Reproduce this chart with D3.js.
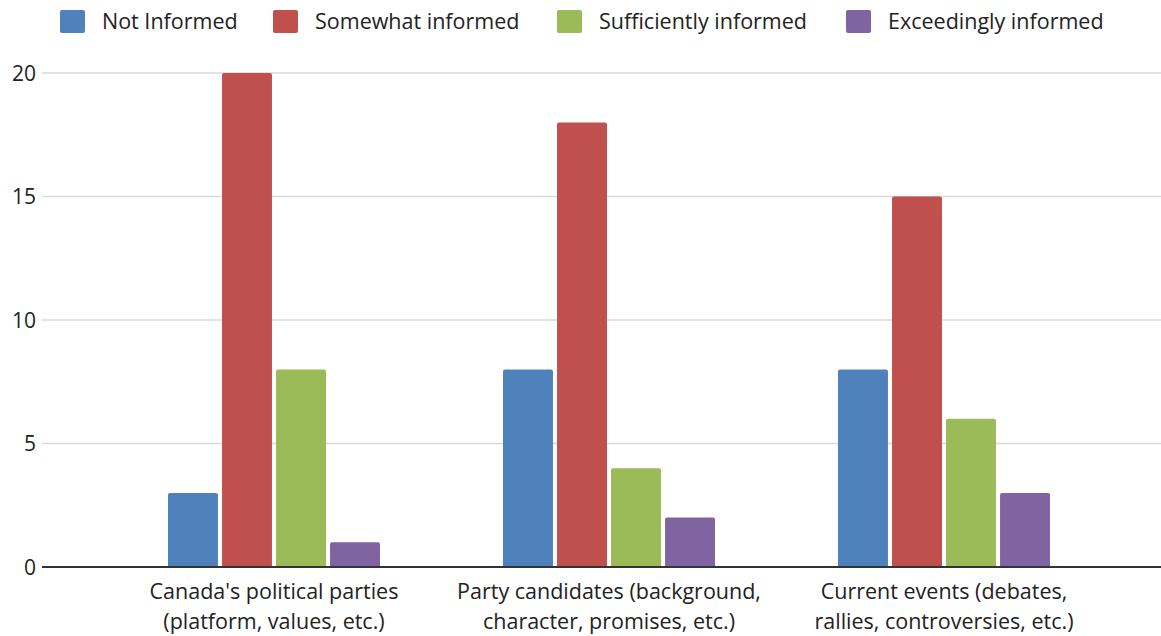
<!DOCTYPE html>
<html>
<head>
<meta charset="utf-8">
<script src="https://cdn.jsdelivr.net/npm/d3@7"></script>
<style>
  body { margin: 0; background: #fff; }
  svg text { font-family: "Open Sans", "Noto Sans", sans-serif; fill: #222; }
</style>
</head>
<body>
<svg id="chart"></svg>
<script>
var categories = [
    ["Canada's political parties", "(platform, values, etc.)"],
    ["Party candidates (background,", "character, promises, etc.)"],
    ["Current events (debates,", "rallies, controversies, etc.)"]
];
var seriesNames = ['Not Informed', 'Somewhat informed', 'Sufficiently informed', 'Exceedingly informed'];
var seriesColors = ['#4F81BD', '#C0504D', '#9BBB59', '#8064A2'];
var notInformed = [3, 8, 8];
var somewhatInformed = [20, 18, 15];
var sufficientlyInformed = [8, 4, 6];
var exceedinglyInformed = [1, 2, 3];
var yTicks = [0, 5, 10, 15, 20];

(function () {
    var width = 1161, height = 636;
    var svg = d3.select('#chart').attr('width', width).attr('height', height);

    var series = [notInformed, somewhatInformed, sufficientlyInformed, exceedinglyInformed];

    var x = d3.scaleBand().domain(d3.range(categories.length)).range([106.5, 1111.5]);
    var x1 = d3.scaleBand().domain(d3.range(series.length)).range([0, 212]).paddingInner(0.075);
    var y = d3.scaleLinear().domain([0, 20]).range([567, 73]);

    // gridlines
    svg.append('g').selectAll('line').data(yTicks.slice(1)).enter().append('line')
        .attr('x1', 42).attr('x2', width)
        .attr('y1', d => y(d)).attr('y2', d => y(d))
        .attr('stroke', '#d9d9d9').attr('stroke-width', 1.5);

    // y labels
    svg.append('g').selectAll('text').data(yTicks).enter().append('text')
        .attr('x', 36).attr('y', d => y(d) + 7.5)
        .attr('text-anchor', 'end').attr('font-size', 21)
        .text(d => d);

    // bars
    var groups = svg.append('g').selectAll('g').data(categories).enter().append('g')
        .attr('transform', (d, i) => 'translate(' + (x(i) + x.bandwidth() / 2 - 106) + ',0)');
    groups.selectAll('path').data((d, i) => series.map((s, j) => ({ s: j, v: s[i] }))).enter().append('path')
        .attr('fill', d => seriesColors[d.s])
        .attr('d', function (d) {
            var x0 = x1(d.s), w = x1.bandwidth(), y0 = y(0), yt = y(d.v), r = 2;
            return 'M' + x0 + ',' + y0 + 'V' + (yt + r) + 'Q' + x0 + ',' + yt + ' ' + (x0 + r) + ',' + yt +
                'H' + (x0 + w - r) + 'Q' + (x0 + w) + ',' + yt + ' ' + (x0 + w) + ',' + (yt + r) + 'V' + y0 + 'Z';
        });

    // axis line
    svg.append('line').attr('x1', 42).attr('x2', width).attr('y1', y(0)).attr('y2', y(0))
        .attr('stroke', '#333').attr('stroke-width', 2);

    // category labels
    var cx = (d, i) => x(i) + x.bandwidth() / 2;
    var cl = svg.append('g').selectAll('text').data(categories).enter().append('text')
        .attr('text-anchor', 'middle').attr('font-size', 21.5);
    cl.append('tspan').attr('y', 599).attr('x', cx).text(d => d[0]);
    cl.append('tspan').attr('y', 629).attr('x', cx).text(d => d[1]);

    // legend
    var legendX = [60, 273, 557, 846];
    var lg = svg.append('g').selectAll('g').data(seriesNames).enter().append('g')
        .attr('transform', (d, i) => 'translate(' + legendX[i] + ',10)');
    lg.append('rect').attr('width', 25).attr('height', 23).attr('rx', 2).attr('fill', (d, i) => seriesColors[i]);
    lg.append('text').attr('x', 42).attr('y', 19).attr('font-size', 21.5).text(d => d);
})();
</script>
</body>
</html>
